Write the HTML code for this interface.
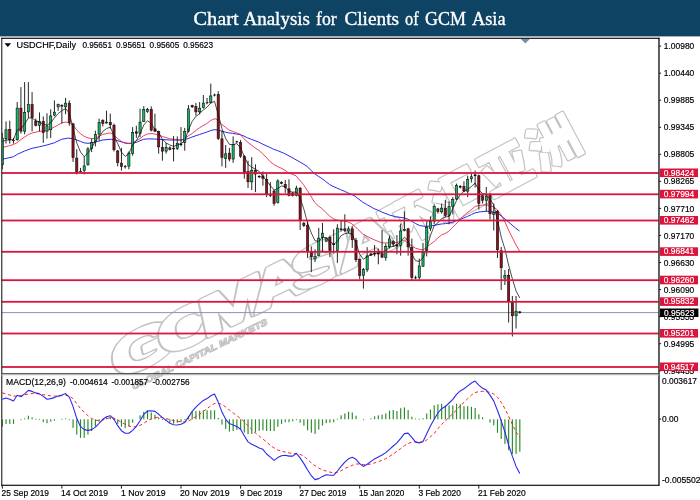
<!DOCTYPE html>
<html lang="en"><head><meta charset="utf-8"><title>Chart Analysis for Clients of GCM Asia</title>
<style>html,body{margin:0;padding:0;background:#fff;overflow:hidden}svg{display:block}.s{font-family:"Liberation Sans","DejaVu Sans",sans-serif;font-size:8.6px;fill:#000;stroke:#000;stroke-width:0.18px}.w{font-family:"Liberation Sans","DejaVu Sans",sans-serif;font-size:8.6px;fill:#fff;stroke:#fff;stroke-width:0.18px}.t{font-family:"Liberation Serif","DejaVu Serif",serif;font-size:19.6px;fill:#fff;stroke:#fff;stroke-width:0.35px}</style></head><body>
<svg width="700" height="500" viewBox="0 0 700 500">
<rect x="0" y="0" width="700" height="500" fill="#fff"/>
<rect x="0" y="0" width="700" height="36.4" fill="#0e4364"/>
<text class="t" y="24.6"><tspan x="193.4" textLength="45.2" lengthAdjust="spacingAndGlyphs">Chart</tspan> <tspan x="243.4" textLength="66.6" lengthAdjust="spacingAndGlyphs">Analysis</tspan> <tspan x="316" textLength="20.6" lengthAdjust="spacingAndGlyphs">for</tspan> <tspan x="344.4" textLength="54.6" lengthAdjust="spacingAndGlyphs">Clients</tspan> <tspan x="405" textLength="13.6" lengthAdjust="spacingAndGlyphs">of</tspan> <tspan x="425" textLength="41.0" lengthAdjust="spacingAndGlyphs">GCM</tspan> <tspan x="472" textLength="33.6" lengthAdjust="spacingAndGlyphs">Asia</tspan></text>
<defs><clipPath id="cm"><rect x="2" y="38.5" width="656" height="335"/></clipPath><clipPath id="cd"><rect x="2" y="375.5" width="656" height="109"/></clipPath></defs>
<defs><text id="wm0" x="0.0" y="0">G</text><text id="wm1" x="28.3" y="0">C</text><text id="wm2" x="53.9" y="0">M</text><text id="wm3" x="84.8" y="0">A</text><text id="wm4" x="110.4" y="0">S</text><text id="wm5" x="133.4" y="0">I</text><text id="wm6" x="137.9" y="0">A</text><text id="wm7" x="0.0" y="0">环</text><text id="wm8" x="55.0" y="0">汇</text><text id="wm9" x="110.0" y="0">亚</text><text id="wm10" x="165.0" y="0">洲</text></defs>
<g transform="matrix(1.6341 -0.7854 0.2418 1.0731 116.20 380.30)" font-family="Liberation Sans, DejaVu Sans, sans-serif" font-weight="bold" font-size="47.6" stroke-linejoin="round" vector-effect="non-scaling-stroke">
<use href="#wm0" fill="#c2c2c2" stroke="#c2c2c2" stroke-width="5.00"/><use href="#wm0" fill="#fff" stroke="#fff" stroke-width="2.60"/>
<use href="#wm1" fill="#c2c2c2" stroke="#c2c2c2" stroke-width="5.00"/><use href="#wm1" fill="#fff" stroke="#fff" stroke-width="2.60"/>
<use href="#wm2" fill="#c2c2c2" stroke="#c2c2c2" stroke-width="5.00"/><use href="#wm2" fill="#fff" stroke="#fff" stroke-width="2.60"/>
<use href="#wm3" fill="#c2c2c2" stroke="#c2c2c2" stroke-width="5.00"/><use href="#wm3" fill="#fff" stroke="#fff" stroke-width="2.60"/>
<use href="#wm4" fill="#c2c2c2" stroke="#c2c2c2" stroke-width="5.00"/><use href="#wm4" fill="#fff" stroke="#fff" stroke-width="2.60"/>
<use href="#wm5" fill="#c2c2c2" stroke="#c2c2c2" stroke-width="5.00"/><use href="#wm5" fill="#fff" stroke="#fff" stroke-width="2.60"/>
<use href="#wm6" fill="#c2c2c2" stroke="#c2c2c2" stroke-width="5.00"/><use href="#wm6" fill="#fff" stroke="#fff" stroke-width="2.60"/>
</g>
<g transform="matrix(0.8829 -0.4695 0.4695 0.8829 394.80 248.50)" font-family="Liberation Sans, Noto Sans CJK SC, sans-serif" font-weight="900" font-size="50" stroke-linejoin="round" vector-effect="non-scaling-stroke">
<use href="#wm7" fill="#c2c2c2" stroke="#c2c2c2" stroke-width="3.60"/><use href="#wm7" fill="#fff" stroke="#fff" stroke-width="1.20"/>
<use href="#wm8" fill="#c2c2c2" stroke="#c2c2c2" stroke-width="3.60"/><use href="#wm8" fill="#fff" stroke="#fff" stroke-width="1.20"/>
<use href="#wm9" fill="#c2c2c2" stroke="#c2c2c2" stroke-width="3.60"/><use href="#wm9" fill="#fff" stroke="#fff" stroke-width="1.20"/>
<use href="#wm10" fill="#c2c2c2" stroke="#c2c2c2" stroke-width="3.60"/><use href="#wm10" fill="#fff" stroke="#fff" stroke-width="1.20"/>
</g>
<g transform="matrix(0.8988 -0.4384 0.2198 0.9755 133.00 390.00)" font-family="Liberation Sans, DejaVu Sans, sans-serif" font-weight="bold" font-size="9">
<text x="0" y="0" textLength="150" lengthAdjust="spacingAndGlyphs" fill="#fff" stroke="#c2c2c2" stroke-width="1.0">GLOBAL CAPITAL MARKETS</text>
</g>
<rect x="2" y="312.1" width="656.5" height="1" fill="#8a97ab"/>
<g clip-path="url(#cm)">
<polyline points="2.2,159.3 13.6,156.7 17.3,154.3 24.6,151.0 32.0,148.3 39.4,146.8 46.9,145.0 54.3,142.8 61.7,139.3 67.9,138.1 73.0,138.6 76.7,140.0 80.4,141.4 84.3,142.9 88.0,143.3 91.7,142.9 95.4,142.0 102.8,140.0 110.3,139.3 114.0,139.6 117.7,140.7 121.4,141.9 125.1,142.9 128.8,143.3 132.5,143.3 136.2,142.4 140.0,140.7 143.7,139.3 147.4,138.9 154.8,139.0 162.2,139.5 169.7,140.0 180.8,140.0 184.5,139.6 188.2,138.6 191.9,137.1 199.3,134.6 206.7,132.1 210.4,130.7 214.1,129.7 217.9,130.0 221.6,131.1 225.3,132.1 229.0,132.9 232.7,133.4 236.4,134.0 240.1,134.6 243.9,136.0 247.6,137.9 251.3,139.3 255.0,140.7 258.7,142.1 262.4,144.0 266.1,145.7 269.9,147.4 273.6,149.3 277.3,150.5 281.0,152.0 284.7,153.6 292.0,157.5 299.0,161.5 305.0,165.0 307.0,166.4 310.7,170.0 314.4,173.6 318.1,176.1 321.9,178.6 325.6,181.4 329.3,184.3 333.0,186.4 336.7,187.9 340.4,189.6 344.1,191.1 347.9,192.9 351.6,194.3 355.3,196.4 359.0,199.3 362.7,202.1 366.4,204.3 370.1,206.4 373.9,208.6 377.6,210.0 382.0,212.1 389.3,215.0 396.4,216.9 404.3,217.9 408.3,219.3 411.9,221.4 415.7,223.6 419.4,225.4 423.1,226.1 426.7,226.4 430.4,226.0 434.3,225.4 437.9,224.6 441.4,224.0 445.4,223.6 449.0,223.1 452.9,222.1 456.4,220.7 460.3,219.3 463.9,217.9 467.6,216.4 471.4,214.6 475.0,212.9 479.0,212.0 486.3,211.2 490.0,211.5 493.7,212.0 497.5,213.0 501.2,216.0 505.0,219.0 508.5,222.0 512.0,225.0 515.5,228.0 519.5,231.0" fill="none" stroke="#2a2af0" stroke-width="1.0" stroke-linejoin="round" />
<polyline points="2.2,147.7 9.7,145.5 13.4,144.6 17.3,142.5 21.0,139.5 24.6,137.0 28.3,134.6 32.0,133.0 39.4,131.4 46.9,130.7 54.3,127.1 61.7,122.9 65.4,122.1 69.3,122.9 73.0,125.0 76.7,130.0 80.4,133.6 84.3,136.4 88.0,137.9 91.7,138.6 95.4,138.3 102.8,134.3 110.3,132.9 114.0,135.0 117.7,138.6 121.4,141.4 125.1,143.3 128.8,143.6 132.5,142.9 136.2,140.7 140.0,138.6 143.7,135.7 147.4,134.0 151.1,133.6 154.8,134.0 158.5,135.0 162.2,136.4 165.9,137.6 169.7,138.6 173.4,139.3 177.1,139.7 180.8,140.0 184.5,139.0 188.2,136.0 191.9,133.6 199.3,127.9 206.7,123.6 210.4,120.7 214.1,118.9 216.0,118.9 217.9,120.7 221.6,124.3 225.3,127.1 229.0,130.0 232.7,131.4 236.4,132.9 240.1,134.3 243.9,138.6 247.6,142.1 251.3,145.0 255.0,147.9 258.7,150.2 262.4,153.6 266.1,157.1 269.9,161.4 273.6,164.3 277.3,166.4 281.0,168.1 284.7,170.0 288.4,172.9 292.1,174.3 295.9,175.7 299.6,180.0 303.3,184.3 307.0,190.0 310.7,195.7 314.4,202.1 318.1,205.7 321.9,208.6 325.6,212.1 329.3,215.7 333.0,218.6 336.7,220.0 340.4,220.7 344.1,221.0 347.9,221.9 351.6,223.6 355.3,226.8 359.0,230.4 362.7,233.9 366.4,236.0 370.1,237.9 373.9,239.7 377.6,241.1 381.9,242.9 389.3,242.9 396.7,242.6 400.4,241.4 404.3,240.0 408.3,243.6 411.9,245.7 415.7,248.3 419.4,249.3 423.1,250.0 426.7,247.1 430.4,244.3 434.3,241.4 437.9,237.9 441.4,235.0 445.0,233.6 448.6,231.4 452.1,227.8 455.7,224.3 459.3,220.5 463.0,216.4 467.0,212.9 471.0,210.0 475.0,206.5 479.0,205.5 482.5,205.0 486.3,204.8 490.0,205.5 493.7,207.0 497.5,210.0 501.2,215.0 505.0,222.0 508.5,230.0 512.0,237.0 515.5,244.0 519.5,251.0" fill="none" stroke="#e8213f" stroke-width="0.85" stroke-linejoin="round" />
<line x1="2.30" y1="132.9" x2="2.30" y2="169.3" stroke="#1a1a1a" stroke-width="0.95"/>
<rect x="1.20" y="138.15" width="2.2" height="26.60" fill="#13b866" stroke="#101010" stroke-width="0.6"/>
<line x1="6.02" y1="121.4" x2="6.02" y2="143.6" stroke="#1a1a1a" stroke-width="0.95"/>
<rect x="4.92" y="129.75" width="2.2" height="9.00" fill="#13b866" stroke="#101010" stroke-width="0.6"/>
<line x1="9.75" y1="120.7" x2="9.75" y2="143.6" stroke="#1a1a1a" stroke-width="0.95"/>
<rect x="8.65" y="129.55" width="2.2" height="10.20" fill="#8e1018" stroke="#101010" stroke-width="0.6"/>
<line x1="13.47" y1="137.9" x2="13.47" y2="143.6" stroke="#1a1a1a" stroke-width="0.95"/>
<rect x="12.12" y="140.0" width="2.7" height="0.9" fill="#111"/>
<line x1="17.19" y1="102.1" x2="17.19" y2="140.7" stroke="#1a1a1a" stroke-width="0.95"/>
<rect x="16.09" y="108.15" width="2.2" height="31.60" fill="#13b866" stroke="#101010" stroke-width="0.6"/>
<line x1="20.91" y1="87.1" x2="20.91" y2="133.6" stroke="#1a1a1a" stroke-width="0.95"/>
<rect x="19.81" y="108.15" width="2.2" height="23.00" fill="#8e1018" stroke="#101010" stroke-width="0.6"/>
<line x1="24.64" y1="82.1" x2="24.64" y2="134.3" stroke="#1a1a1a" stroke-width="0.95"/>
<rect x="23.54" y="112.35" width="2.2" height="18.80" fill="#13b866" stroke="#101010" stroke-width="0.6"/>
<line x1="28.36" y1="82.1" x2="28.36" y2="117.9" stroke="#1a1a1a" stroke-width="0.95"/>
<rect x="27.26" y="104.55" width="2.2" height="7.30" fill="#13b866" stroke="#101010" stroke-width="0.6"/>
<line x1="32.08" y1="92.1" x2="32.08" y2="131.4" stroke="#1a1a1a" stroke-width="0.95"/>
<rect x="30.98" y="104.55" width="2.2" height="13.10" fill="#8e1018" stroke="#101010" stroke-width="0.6"/>
<line x1="35.81" y1="118.6" x2="35.81" y2="126.4" stroke="#1a1a1a" stroke-width="0.95"/>
<rect x="34.71" y="120.95" width="2.2" height="4.50" fill="#8e1018" stroke="#101010" stroke-width="0.6"/>
<line x1="39.53" y1="112.4" x2="39.53" y2="131.4" stroke="#1a1a1a" stroke-width="0.95"/>
<rect x="38.43" y="121.65" width="2.2" height="3.80" fill="#13b866" stroke="#101010" stroke-width="0.6"/>
<line x1="43.25" y1="116.4" x2="43.25" y2="142.9" stroke="#1a1a1a" stroke-width="0.95"/>
<rect x="42.15" y="121.65" width="2.2" height="11.00" fill="#8e1018" stroke="#101010" stroke-width="0.6"/>
<line x1="46.98" y1="113.3" x2="46.98" y2="138.6" stroke="#1a1a1a" stroke-width="0.95"/>
<rect x="45.88" y="125.95" width="2.2" height="5.20" fill="#13b866" stroke="#101010" stroke-width="0.6"/>
<line x1="50.70" y1="109.3" x2="50.70" y2="137.9" stroke="#1a1a1a" stroke-width="0.95"/>
<rect x="49.60" y="115.95" width="2.2" height="13.80" fill="#13b866" stroke="#101010" stroke-width="0.6"/>
<line x1="54.42" y1="100.4" x2="54.42" y2="116.4" stroke="#1a1a1a" stroke-width="0.95"/>
<rect x="53.32" y="112.15" width="2.2" height="2.90" fill="#13b866" stroke="#101010" stroke-width="0.6"/>
<line x1="58.14" y1="103.6" x2="58.14" y2="110.7" stroke="#1a1a1a" stroke-width="0.95"/>
<rect x="57.04" y="104.55" width="2.2" height="2.30" fill="#13b866" stroke="#101010" stroke-width="0.6"/>
<line x1="61.87" y1="104.3" x2="61.87" y2="123.6" stroke="#1a1a1a" stroke-width="0.95"/>
<rect x="60.77" y="105.25" width="2.2" height="0.90" fill="#8e1018" stroke="#101010" stroke-width="0.6"/>
<line x1="65.59" y1="97.9" x2="65.59" y2="114.3" stroke="#1a1a1a" stroke-width="0.95"/>
<rect x="64.49" y="103.15" width="2.2" height="3.70" fill="#13b866" stroke="#101010" stroke-width="0.6"/>
<line x1="69.31" y1="100.4" x2="69.31" y2="125.7" stroke="#1a1a1a" stroke-width="0.95"/>
<rect x="68.21" y="103.15" width="2.2" height="19.50" fill="#8e1018" stroke="#101010" stroke-width="0.6"/>
<line x1="73.04" y1="122.9" x2="73.04" y2="161.9" stroke="#1a1a1a" stroke-width="0.95"/>
<rect x="71.94" y="123.85" width="2.2" height="33.80" fill="#8e1018" stroke="#101010" stroke-width="0.6"/>
<line x1="76.76" y1="149.3" x2="76.76" y2="174.3" stroke="#1a1a1a" stroke-width="0.95"/>
<rect x="75.66" y="158.15" width="2.2" height="14.50" fill="#8e1018" stroke="#101010" stroke-width="0.6"/>
<line x1="80.48" y1="167.9" x2="80.48" y2="172.0" stroke="#1a1a1a" stroke-width="0.95"/>
<rect x="79.13" y="171.0" width="2.7" height="0.9" fill="#111"/>
<line x1="84.21" y1="156.4" x2="84.21" y2="174.3" stroke="#1a1a1a" stroke-width="0.95"/>
<rect x="83.11" y="165.95" width="2.2" height="4.50" fill="#13b866" stroke="#101010" stroke-width="0.6"/>
<line x1="87.93" y1="147.1" x2="87.93" y2="165.7" stroke="#1a1a1a" stroke-width="0.95"/>
<rect x="86.83" y="148.85" width="2.2" height="15.90" fill="#13b866" stroke="#101010" stroke-width="0.6"/>
<line x1="91.65" y1="138.6" x2="91.65" y2="152.1" stroke="#1a1a1a" stroke-width="0.95"/>
<rect x="90.55" y="142.35" width="2.2" height="6.00" fill="#13b866" stroke="#101010" stroke-width="0.6"/>
<line x1="95.38" y1="130.7" x2="95.38" y2="146.4" stroke="#1a1a1a" stroke-width="0.95"/>
<rect x="94.28" y="134.55" width="2.2" height="7.30" fill="#13b866" stroke="#101010" stroke-width="0.6"/>
<line x1="99.10" y1="118.6" x2="99.10" y2="140.7" stroke="#1a1a1a" stroke-width="0.95"/>
<rect x="98.00" y="122.35" width="2.2" height="11.70" fill="#13b866" stroke="#101010" stroke-width="0.6"/>
<line x1="102.82" y1="119.3" x2="102.82" y2="126.4" stroke="#1a1a1a" stroke-width="0.95"/>
<rect x="101.72" y="120.25" width="2.2" height="3.10" fill="#8e1018" stroke="#101010" stroke-width="0.6"/>
<line x1="106.54" y1="110.7" x2="106.54" y2="123.6" stroke="#1a1a1a" stroke-width="0.95"/>
<rect x="105.44" y="122.15" width="2.2" height="0.90" fill="#13b866" stroke="#101010" stroke-width="0.6"/>
<line x1="110.27" y1="113.6" x2="110.27" y2="128.6" stroke="#1a1a1a" stroke-width="0.95"/>
<rect x="109.17" y="122.35" width="2.2" height="2.40" fill="#8e1018" stroke="#101010" stroke-width="0.6"/>
<line x1="113.99" y1="123.6" x2="113.99" y2="151.4" stroke="#1a1a1a" stroke-width="0.95"/>
<rect x="112.89" y="125.25" width="2.2" height="24.50" fill="#8e1018" stroke="#101010" stroke-width="0.6"/>
<line x1="117.71" y1="150.0" x2="117.71" y2="166.4" stroke="#1a1a1a" stroke-width="0.95"/>
<rect x="116.61" y="150.95" width="2.2" height="11.70" fill="#8e1018" stroke="#101010" stroke-width="0.6"/>
<line x1="121.44" y1="147.9" x2="121.44" y2="170.7" stroke="#1a1a1a" stroke-width="0.95"/>
<rect x="120.34" y="163.15" width="2.2" height="3.30" fill="#8e1018" stroke="#101010" stroke-width="0.6"/>
<line x1="125.16" y1="165.0" x2="125.16" y2="168.6" stroke="#1a1a1a" stroke-width="0.95"/>
<rect x="123.81" y="166.2" width="2.7" height="0.9" fill="#111"/>
<line x1="128.88" y1="151.4" x2="128.88" y2="169.3" stroke="#1a1a1a" stroke-width="0.95"/>
<rect x="127.78" y="153.15" width="2.2" height="13.00" fill="#13b866" stroke="#101010" stroke-width="0.6"/>
<line x1="132.61" y1="127.1" x2="132.61" y2="155.7" stroke="#1a1a1a" stroke-width="0.95"/>
<rect x="131.51" y="132.65" width="2.2" height="20.70" fill="#13b866" stroke="#101010" stroke-width="0.6"/>
<line x1="136.33" y1="125.7" x2="136.33" y2="137.9" stroke="#1a1a1a" stroke-width="0.95"/>
<rect x="134.98" y="131.4" width="2.7" height="2.2" fill="#111"/>
<line x1="140.05" y1="108.6" x2="140.05" y2="137.1" stroke="#1a1a1a" stroke-width="0.95"/>
<rect x="138.95" y="122.15" width="2.2" height="11.20" fill="#13b866" stroke="#101010" stroke-width="0.6"/>
<line x1="143.77" y1="106.1" x2="143.77" y2="122.0" stroke="#1a1a1a" stroke-width="0.95"/>
<rect x="142.67" y="109.55" width="2.2" height="12.10" fill="#13b866" stroke="#101010" stroke-width="0.6"/>
<line x1="147.50" y1="107.9" x2="147.50" y2="112.9" stroke="#1a1a1a" stroke-width="0.95"/>
<rect x="146.40" y="109.55" width="2.2" height="2.10" fill="#13b866" stroke="#101010" stroke-width="0.6"/>
<line x1="151.22" y1="106.4" x2="151.22" y2="131.4" stroke="#1a1a1a" stroke-width="0.95"/>
<rect x="150.12" y="109.55" width="2.2" height="20.60" fill="#8e1018" stroke="#101010" stroke-width="0.6"/>
<line x1="154.94" y1="113.6" x2="154.94" y2="132.1" stroke="#1a1a1a" stroke-width="0.95"/>
<rect x="153.84" y="128.85" width="2.2" height="2.30" fill="#8e1018" stroke="#101010" stroke-width="0.6"/>
<line x1="158.67" y1="130.7" x2="158.67" y2="153.6" stroke="#1a1a1a" stroke-width="0.95"/>
<rect x="157.57" y="131.65" width="2.2" height="15.20" fill="#8e1018" stroke="#101010" stroke-width="0.6"/>
<line x1="162.39" y1="140.0" x2="162.39" y2="160.7" stroke="#1a1a1a" stroke-width="0.95"/>
<rect x="161.29" y="147.35" width="2.2" height="3.80" fill="#8e1018" stroke="#101010" stroke-width="0.6"/>
<line x1="166.11" y1="142.9" x2="166.11" y2="153.6" stroke="#1a1a1a" stroke-width="0.95"/>
<rect x="165.01" y="147.35" width="2.2" height="3.80" fill="#13b866" stroke="#101010" stroke-width="0.6"/>
<line x1="169.84" y1="146.4" x2="169.84" y2="150.4" stroke="#1a1a1a" stroke-width="0.95"/>
<rect x="168.74" y="147.85" width="2.2" height="1.50" fill="#8e1018" stroke="#101010" stroke-width="0.6"/>
<line x1="173.56" y1="136.1" x2="173.56" y2="161.4" stroke="#1a1a1a" stroke-width="0.95"/>
<rect x="172.21" y="147.9" width="2.7" height="1.4" fill="#111"/>
<line x1="177.28" y1="136.4" x2="177.28" y2="150.0" stroke="#1a1a1a" stroke-width="0.95"/>
<rect x="176.18" y="143.55" width="2.2" height="4.80" fill="#13b866" stroke="#101010" stroke-width="0.6"/>
<line x1="181.00" y1="127.1" x2="181.00" y2="146.4" stroke="#1a1a1a" stroke-width="0.95"/>
<rect x="179.65" y="143.6" width="2.7" height="1.4" fill="#111"/>
<line x1="184.73" y1="127.9" x2="184.73" y2="150.7" stroke="#1a1a1a" stroke-width="0.95"/>
<rect x="183.63" y="131.65" width="2.2" height="11.00" fill="#13b866" stroke="#101010" stroke-width="0.6"/>
<line x1="188.45" y1="105.0" x2="188.45" y2="132.5" stroke="#1a1a1a" stroke-width="0.95"/>
<rect x="187.35" y="108.85" width="2.2" height="22.30" fill="#13b866" stroke="#101010" stroke-width="0.6"/>
<line x1="192.17" y1="104.7" x2="192.17" y2="108.0" stroke="#1a1a1a" stroke-width="0.95"/>
<rect x="191.07" y="105.65" width="2.2" height="1.20" fill="#8e1018" stroke="#101010" stroke-width="0.6"/>
<line x1="195.90" y1="102.9" x2="195.90" y2="115.7" stroke="#1a1a1a" stroke-width="0.95"/>
<rect x="194.80" y="106.65" width="2.2" height="5.20" fill="#8e1018" stroke="#101010" stroke-width="0.6"/>
<line x1="199.62" y1="102.1" x2="199.62" y2="114.3" stroke="#1a1a1a" stroke-width="0.95"/>
<rect x="198.52" y="108.15" width="2.2" height="3.70" fill="#13b866" stroke="#101010" stroke-width="0.6"/>
<line x1="203.34" y1="95.0" x2="203.34" y2="108.6" stroke="#1a1a1a" stroke-width="0.95"/>
<rect x="202.24" y="103.15" width="2.2" height="4.50" fill="#13b866" stroke="#101010" stroke-width="0.6"/>
<line x1="207.06" y1="97.9" x2="207.06" y2="104.3" stroke="#1a1a1a" stroke-width="0.95"/>
<rect x="205.72" y="102.3" width="2.7" height="0.9" fill="#111"/>
<line x1="210.79" y1="83.6" x2="210.79" y2="103.6" stroke="#1a1a1a" stroke-width="0.95"/>
<rect x="209.69" y="95.95" width="2.2" height="6.70" fill="#13b866" stroke="#101010" stroke-width="0.6"/>
<line x1="214.51" y1="93.6" x2="214.51" y2="96.4" stroke="#1a1a1a" stroke-width="0.95"/>
<rect x="213.16" y="94.6" width="2.7" height="0.9" fill="#111"/>
<line x1="218.23" y1="91.1" x2="218.23" y2="140.0" stroke="#1a1a1a" stroke-width="0.95"/>
<rect x="217.13" y="94.55" width="2.2" height="43.80" fill="#8e1018" stroke="#101010" stroke-width="0.6"/>
<line x1="221.96" y1="130.7" x2="221.96" y2="166.4" stroke="#1a1a1a" stroke-width="0.95"/>
<rect x="220.86" y="138.85" width="2.2" height="18.80" fill="#8e1018" stroke="#101010" stroke-width="0.6"/>
<line x1="225.68" y1="145.0" x2="225.68" y2="167.9" stroke="#1a1a1a" stroke-width="0.95"/>
<rect x="224.58" y="153.85" width="2.2" height="4.50" fill="#13b866" stroke="#101010" stroke-width="0.6"/>
<line x1="229.40" y1="147.9" x2="229.40" y2="161.4" stroke="#1a1a1a" stroke-width="0.95"/>
<rect x="228.30" y="153.15" width="2.2" height="5.90" fill="#8e1018" stroke="#101010" stroke-width="0.6"/>
<line x1="233.13" y1="136.4" x2="233.13" y2="162.9" stroke="#1a1a1a" stroke-width="0.95"/>
<rect x="232.03" y="144.55" width="2.2" height="14.50" fill="#13b866" stroke="#101010" stroke-width="0.6"/>
<line x1="236.85" y1="140.7" x2="236.85" y2="142.9" stroke="#1a1a1a" stroke-width="0.95"/>
<rect x="235.50" y="141.4" width="2.7" height="0.9" fill="#111"/>
<line x1="240.57" y1="140.0" x2="240.57" y2="157.9" stroke="#1a1a1a" stroke-width="0.95"/>
<rect x="239.47" y="142.35" width="2.2" height="13.80" fill="#8e1018" stroke="#101010" stroke-width="0.6"/>
<line x1="244.30" y1="155.0" x2="244.30" y2="178.6" stroke="#1a1a1a" stroke-width="0.95"/>
<rect x="243.20" y="156.65" width="2.2" height="16.70" fill="#8e1018" stroke="#101010" stroke-width="0.6"/>
<line x1="248.02" y1="160.7" x2="248.02" y2="187.9" stroke="#1a1a1a" stroke-width="0.95"/>
<rect x="246.92" y="171.65" width="2.2" height="10.20" fill="#8e1018" stroke="#101010" stroke-width="0.6"/>
<line x1="251.74" y1="157.1" x2="251.74" y2="190.0" stroke="#1a1a1a" stroke-width="0.95"/>
<rect x="250.64" y="170.25" width="2.2" height="11.60" fill="#13b866" stroke="#101010" stroke-width="0.6"/>
<line x1="255.46" y1="164.3" x2="255.46" y2="192.1" stroke="#1a1a1a" stroke-width="0.95"/>
<rect x="254.36" y="170.25" width="2.2" height="3.80" fill="#8e1018" stroke="#101010" stroke-width="0.6"/>
<line x1="259.19" y1="175.4" x2="259.19" y2="177.9" stroke="#1a1a1a" stroke-width="0.95"/>
<rect x="258.09" y="176.25" width="2.2" height="0.70" fill="#8e1018" stroke="#101010" stroke-width="0.6"/>
<line x1="262.91" y1="171.4" x2="262.91" y2="185.7" stroke="#1a1a1a" stroke-width="0.95"/>
<rect x="261.81" y="175.95" width="2.2" height="2.40" fill="#8e1018" stroke="#101010" stroke-width="0.6"/>
<line x1="266.63" y1="173.6" x2="266.63" y2="197.1" stroke="#1a1a1a" stroke-width="0.95"/>
<rect x="265.53" y="179.55" width="2.2" height="14.50" fill="#8e1018" stroke="#101010" stroke-width="0.6"/>
<line x1="270.36" y1="182.1" x2="270.36" y2="197.1" stroke="#1a1a1a" stroke-width="0.95"/>
<rect x="269.01" y="194.3" width="2.7" height="1.4" fill="#111"/>
<line x1="274.08" y1="190.0" x2="274.08" y2="205.7" stroke="#1a1a1a" stroke-width="0.95"/>
<rect x="272.98" y="190.95" width="2.2" height="12.40" fill="#8e1018" stroke="#101010" stroke-width="0.6"/>
<line x1="277.80" y1="179.3" x2="277.80" y2="203.6" stroke="#1a1a1a" stroke-width="0.95"/>
<rect x="276.70" y="180.95" width="2.2" height="21.70" fill="#13b866" stroke="#101010" stroke-width="0.6"/>
<line x1="281.52" y1="181.4" x2="281.52" y2="184.3" stroke="#1a1a1a" stroke-width="0.95"/>
<rect x="280.42" y="182.25" width="2.2" height="1.10" fill="#8e1018" stroke="#101010" stroke-width="0.6"/>
<line x1="285.25" y1="180.0" x2="285.25" y2="192.9" stroke="#1a1a1a" stroke-width="0.95"/>
<rect x="284.15" y="184.55" width="2.2" height="3.10" fill="#8e1018" stroke="#101010" stroke-width="0.6"/>
<line x1="288.97" y1="179.3" x2="288.97" y2="196.4" stroke="#1a1a1a" stroke-width="0.95"/>
<rect x="287.87" y="188.85" width="2.2" height="6.60" fill="#8e1018" stroke="#101010" stroke-width="0.6"/>
<line x1="292.69" y1="192.0" x2="292.69" y2="196.5" stroke="#1a1a1a" stroke-width="0.95"/>
<rect x="291.59" y="193.15" width="2.2" height="2.30" fill="#8e1018" stroke="#101010" stroke-width="0.6"/>
<line x1="296.42" y1="185.7" x2="296.42" y2="196.4" stroke="#1a1a1a" stroke-width="0.95"/>
<rect x="295.32" y="188.15" width="2.2" height="7.30" fill="#13b866" stroke="#101010" stroke-width="0.6"/>
<line x1="300.14" y1="187.1" x2="300.14" y2="230.0" stroke="#1a1a1a" stroke-width="0.95"/>
<rect x="299.04" y="188.15" width="2.2" height="32.30" fill="#8e1018" stroke="#101010" stroke-width="0.6"/>
<line x1="303.86" y1="222.0" x2="303.86" y2="227.0" stroke="#1a1a1a" stroke-width="0.95"/>
<rect x="302.76" y="223.25" width="2.2" height="2.20" fill="#8e1018" stroke="#101010" stroke-width="0.6"/>
<line x1="307.59" y1="221.4" x2="307.59" y2="257.9" stroke="#1a1a1a" stroke-width="0.95"/>
<rect x="306.49" y="225.25" width="2.2" height="25.90" fill="#8e1018" stroke="#101010" stroke-width="0.6"/>
<line x1="311.31" y1="246.4" x2="311.31" y2="272.1" stroke="#1a1a1a" stroke-width="0.95"/>
<rect x="310.21" y="251.65" width="2.2" height="5.20" fill="#8e1018" stroke="#101010" stroke-width="0.6"/>
<line x1="315.03" y1="249.3" x2="315.03" y2="262.1" stroke="#1a1a1a" stroke-width="0.95"/>
<rect x="313.93" y="256.65" width="2.2" height="2.40" fill="#13b866" stroke="#101010" stroke-width="0.6"/>
<line x1="318.75" y1="227.9" x2="318.75" y2="256.4" stroke="#1a1a1a" stroke-width="0.95"/>
<rect x="317.65" y="238.15" width="2.2" height="17.30" fill="#13b866" stroke="#101010" stroke-width="0.6"/>
<line x1="322.48" y1="222.9" x2="322.48" y2="251.4" stroke="#1a1a1a" stroke-width="0.95"/>
<rect x="321.38" y="233.15" width="2.2" height="4.50" fill="#13b866" stroke="#101010" stroke-width="0.6"/>
<line x1="326.20" y1="237.1" x2="326.20" y2="242.1" stroke="#1a1a1a" stroke-width="0.95"/>
<rect x="325.10" y="238.15" width="2.2" height="3.00" fill="#13b866" stroke="#101010" stroke-width="0.6"/>
<line x1="329.92" y1="235.7" x2="329.92" y2="257.1" stroke="#1a1a1a" stroke-width="0.95"/>
<rect x="328.82" y="237.35" width="2.2" height="13.10" fill="#8e1018" stroke="#101010" stroke-width="0.6"/>
<line x1="333.65" y1="229.3" x2="333.65" y2="253.6" stroke="#1a1a1a" stroke-width="0.95"/>
<rect x="332.30" y="243.6" width="2.7" height="1.4" fill="#111"/>
<line x1="337.37" y1="224.3" x2="337.37" y2="262.9" stroke="#1a1a1a" stroke-width="0.95"/>
<rect x="336.27" y="228.15" width="2.2" height="22.30" fill="#13b866" stroke="#101010" stroke-width="0.6"/>
<line x1="341.09" y1="220.7" x2="341.09" y2="231.4" stroke="#1a1a1a" stroke-width="0.95"/>
<rect x="339.74" y="228.6" width="2.7" height="1.4" fill="#111"/>
<line x1="344.82" y1="214.3" x2="344.82" y2="232.1" stroke="#1a1a1a" stroke-width="0.95"/>
<rect x="343.72" y="228.85" width="2.2" height="1.60" fill="#8e1018" stroke="#101010" stroke-width="0.6"/>
<line x1="348.54" y1="226.4" x2="348.54" y2="233.6" stroke="#1a1a1a" stroke-width="0.95"/>
<rect x="347.44" y="228.85" width="2.2" height="2.30" fill="#13b866" stroke="#101010" stroke-width="0.6"/>
<line x1="352.26" y1="226.4" x2="352.26" y2="247.9" stroke="#1a1a1a" stroke-width="0.95"/>
<rect x="351.16" y="228.85" width="2.2" height="10.90" fill="#8e1018" stroke="#101010" stroke-width="0.6"/>
<line x1="355.99" y1="237.9" x2="355.99" y2="262.1" stroke="#1a1a1a" stroke-width="0.95"/>
<rect x="354.88" y="240.25" width="2.2" height="19.50" fill="#8e1018" stroke="#101010" stroke-width="0.6"/>
<line x1="359.71" y1="258.6" x2="359.71" y2="279.3" stroke="#1a1a1a" stroke-width="0.95"/>
<rect x="358.61" y="259.55" width="2.2" height="15.90" fill="#8e1018" stroke="#101010" stroke-width="0.6"/>
<line x1="363.43" y1="267.9" x2="363.43" y2="288.6" stroke="#1a1a1a" stroke-width="0.95"/>
<rect x="362.33" y="269.55" width="2.2" height="5.90" fill="#13b866" stroke="#101010" stroke-width="0.6"/>
<line x1="367.15" y1="247.1" x2="367.15" y2="272.1" stroke="#1a1a1a" stroke-width="0.95"/>
<rect x="366.05" y="255.95" width="2.2" height="13.80" fill="#13b866" stroke="#101010" stroke-width="0.6"/>
<line x1="370.88" y1="253.0" x2="370.88" y2="256.0" stroke="#1a1a1a" stroke-width="0.95"/>
<rect x="369.53" y="253.6" width="2.7" height="1.8" fill="#111"/>
<line x1="374.60" y1="245.0" x2="374.60" y2="256.4" stroke="#1a1a1a" stroke-width="0.95"/>
<rect x="373.25" y="252.9" width="2.7" height="1.4" fill="#111"/>
<line x1="378.32" y1="248.6" x2="378.32" y2="264.3" stroke="#1a1a1a" stroke-width="0.95"/>
<rect x="376.97" y="252.1" width="2.7" height="2.2" fill="#111"/>
<line x1="382.05" y1="230.0" x2="382.05" y2="257.9" stroke="#1a1a1a" stroke-width="0.95"/>
<rect x="380.95" y="253.85" width="2.2" height="3.30" fill="#8e1018" stroke="#101010" stroke-width="0.6"/>
<line x1="385.77" y1="243.6" x2="385.77" y2="260.7" stroke="#1a1a1a" stroke-width="0.95"/>
<rect x="384.67" y="246.65" width="2.2" height="11.00" fill="#13b866" stroke="#101010" stroke-width="0.6"/>
<line x1="389.49" y1="235.7" x2="389.49" y2="248.6" stroke="#1a1a1a" stroke-width="0.95"/>
<rect x="388.39" y="238.85" width="2.2" height="8.00" fill="#13b866" stroke="#101010" stroke-width="0.6"/>
<line x1="393.21" y1="240.0" x2="393.21" y2="247.0" stroke="#1a1a1a" stroke-width="0.95"/>
<rect x="392.11" y="241.65" width="2.2" height="2.40" fill="#8e1018" stroke="#101010" stroke-width="0.6"/>
<line x1="396.94" y1="235.0" x2="396.94" y2="254.3" stroke="#1a1a1a" stroke-width="0.95"/>
<rect x="395.59" y="244.3" width="2.7" height="2.1" fill="#111"/>
<line x1="400.66" y1="223.6" x2="400.66" y2="255.7" stroke="#1a1a1a" stroke-width="0.95"/>
<rect x="399.56" y="230.95" width="2.2" height="14.50" fill="#13b866" stroke="#101010" stroke-width="0.6"/>
<line x1="404.38" y1="211.4" x2="404.38" y2="231.4" stroke="#1a1a1a" stroke-width="0.95"/>
<rect x="403.28" y="229.25" width="2.2" height="1.20" fill="#13b866" stroke="#101010" stroke-width="0.6"/>
<line x1="408.11" y1="227.9" x2="408.11" y2="255.7" stroke="#1a1a1a" stroke-width="0.95"/>
<rect x="407.01" y="228.85" width="2.2" height="18.00" fill="#8e1018" stroke="#101010" stroke-width="0.6"/>
<line x1="411.83" y1="238.6" x2="411.83" y2="280.0" stroke="#1a1a1a" stroke-width="0.95"/>
<rect x="410.73" y="247.35" width="2.2" height="30.30" fill="#8e1018" stroke="#101010" stroke-width="0.6"/>
<line x1="415.55" y1="275.7" x2="415.55" y2="279.3" stroke="#1a1a1a" stroke-width="0.95"/>
<rect x="414.20" y="277.4" width="2.7" height="0.9" fill="#111"/>
<line x1="419.28" y1="258.6" x2="419.28" y2="280.0" stroke="#1a1a1a" stroke-width="0.95"/>
<rect x="418.18" y="265.95" width="2.2" height="11.70" fill="#13b866" stroke="#101010" stroke-width="0.6"/>
<line x1="423.00" y1="242.9" x2="423.00" y2="267.1" stroke="#1a1a1a" stroke-width="0.95"/>
<rect x="421.90" y="252.35" width="2.2" height="13.80" fill="#13b866" stroke="#101010" stroke-width="0.6"/>
<line x1="426.72" y1="221.4" x2="426.72" y2="256.4" stroke="#1a1a1a" stroke-width="0.95"/>
<rect x="425.62" y="227.35" width="2.2" height="23.10" fill="#13b866" stroke="#101010" stroke-width="0.6"/>
<line x1="430.44" y1="216.4" x2="430.44" y2="231.0" stroke="#1a1a1a" stroke-width="0.95"/>
<rect x="429.34" y="221.65" width="2.2" height="6.70" fill="#13b866" stroke="#101010" stroke-width="0.6"/>
<line x1="434.17" y1="204.3" x2="434.17" y2="224.3" stroke="#1a1a1a" stroke-width="0.95"/>
<rect x="433.07" y="206.65" width="2.2" height="14.50" fill="#13b866" stroke="#101010" stroke-width="0.6"/>
<line x1="437.89" y1="207.9" x2="437.89" y2="213.6" stroke="#1a1a1a" stroke-width="0.95"/>
<rect x="436.79" y="208.85" width="2.2" height="2.60" fill="#8e1018" stroke="#101010" stroke-width="0.6"/>
<line x1="441.61" y1="203.6" x2="441.61" y2="213.6" stroke="#1a1a1a" stroke-width="0.95"/>
<rect x="440.51" y="208.15" width="2.2" height="3.70" fill="#13b866" stroke="#101010" stroke-width="0.6"/>
<line x1="445.34" y1="200.0" x2="445.34" y2="217.1" stroke="#1a1a1a" stroke-width="0.95"/>
<rect x="444.24" y="208.15" width="2.2" height="7.30" fill="#8e1018" stroke="#101010" stroke-width="0.6"/>
<line x1="449.06" y1="201.4" x2="449.06" y2="224.3" stroke="#1a1a1a" stroke-width="0.95"/>
<rect x="447.96" y="206.65" width="2.2" height="8.80" fill="#13b866" stroke="#101010" stroke-width="0.6"/>
<line x1="452.78" y1="197.1" x2="452.78" y2="214.3" stroke="#1a1a1a" stroke-width="0.95"/>
<rect x="451.68" y="199.55" width="2.2" height="6.60" fill="#13b866" stroke="#101010" stroke-width="0.6"/>
<line x1="456.51" y1="183.6" x2="456.51" y2="200.0" stroke="#1a1a1a" stroke-width="0.95"/>
<rect x="455.41" y="185.25" width="2.2" height="13.80" fill="#13b866" stroke="#101010" stroke-width="0.6"/>
<line x1="460.23" y1="185.0" x2="460.23" y2="188.5" stroke="#1a1a1a" stroke-width="0.95"/>
<rect x="458.88" y="186.0" width="2.7" height="1.5" fill="#111"/>
<line x1="463.95" y1="181.4" x2="463.95" y2="192.1" stroke="#1a1a1a" stroke-width="0.95"/>
<rect x="462.85" y="186.65" width="2.2" height="4.50" fill="#8e1018" stroke="#101010" stroke-width="0.6"/>
<line x1="467.68" y1="175.7" x2="467.68" y2="197.1" stroke="#1a1a1a" stroke-width="0.95"/>
<rect x="466.57" y="179.55" width="2.2" height="11.60" fill="#13b866" stroke="#101010" stroke-width="0.6"/>
<line x1="471.40" y1="174.0" x2="471.40" y2="182.5" stroke="#1a1a1a" stroke-width="0.95"/>
<rect x="470.30" y="176.75" width="2.2" height="2.00" fill="#13b866" stroke="#101010" stroke-width="0.6"/>
<line x1="475.12" y1="170.5" x2="475.12" y2="187.5" stroke="#1a1a1a" stroke-width="0.95"/>
<rect x="473.77" y="174.5" width="2.7" height="1.5" fill="#111"/>
<line x1="478.84" y1="174.5" x2="478.84" y2="209.5" stroke="#1a1a1a" stroke-width="0.95"/>
<rect x="477.74" y="175.75" width="2.2" height="27.50" fill="#8e1018" stroke="#101010" stroke-width="0.6"/>
<line x1="482.57" y1="194.5" x2="482.57" y2="203.5" stroke="#1a1a1a" stroke-width="0.95"/>
<rect x="481.47" y="195.75" width="2.2" height="4.50" fill="#8e1018" stroke="#101010" stroke-width="0.6"/>
<line x1="486.29" y1="187.0" x2="486.29" y2="211.5" stroke="#1a1a1a" stroke-width="0.95"/>
<rect x="485.19" y="196.25" width="2.2" height="4.00" fill="#13b866" stroke="#101010" stroke-width="0.6"/>
<line x1="490.01" y1="193.0" x2="490.01" y2="219.5" stroke="#1a1a1a" stroke-width="0.95"/>
<rect x="488.91" y="194.25" width="2.2" height="19.50" fill="#8e1018" stroke="#101010" stroke-width="0.6"/>
<line x1="493.74" y1="203.5" x2="493.74" y2="230.5" stroke="#1a1a1a" stroke-width="0.95"/>
<rect x="492.64" y="212.75" width="2.2" height="1.50" fill="#13b866" stroke="#101010" stroke-width="0.6"/>
<line x1="497.46" y1="210.0" x2="497.46" y2="258.0" stroke="#1a1a1a" stroke-width="0.95"/>
<rect x="496.36" y="211.25" width="2.2" height="38.50" fill="#8e1018" stroke="#101010" stroke-width="0.6"/>
<line x1="501.18" y1="247.0" x2="501.18" y2="290.0" stroke="#1a1a1a" stroke-width="0.95"/>
<rect x="500.08" y="250.75" width="2.2" height="17.00" fill="#8e1018" stroke="#101010" stroke-width="0.6"/>
<line x1="504.90" y1="270.0" x2="504.90" y2="285.0" stroke="#1a1a1a" stroke-width="0.95"/>
<rect x="503.80" y="275.25" width="2.2" height="3.00" fill="#13b866" stroke="#101010" stroke-width="0.6"/>
<line x1="508.63" y1="269.0" x2="508.63" y2="322.5" stroke="#1a1a1a" stroke-width="0.95"/>
<rect x="507.53" y="275.25" width="2.2" height="25.50" fill="#8e1018" stroke="#101010" stroke-width="0.6"/>
<line x1="512.35" y1="296.0" x2="512.35" y2="336.5" stroke="#1a1a1a" stroke-width="0.95"/>
<rect x="511.25" y="302.25" width="2.2" height="13.50" fill="#8e1018" stroke="#101010" stroke-width="0.6"/>
<line x1="516.07" y1="296.0" x2="516.07" y2="328.5" stroke="#1a1a1a" stroke-width="0.95"/>
<rect x="514.97" y="311.25" width="2.2" height="4.50" fill="#13b866" stroke="#101010" stroke-width="0.6"/>
<line x1="519.80" y1="311.0" x2="519.80" y2="313.5" stroke="#1a1a1a" stroke-width="0.95"/>
<rect x="518.45" y="311.5" width="2.7" height="1.5" fill="#111"/>
<polyline points="2.3,141.5 6.0,140.0 9.7,140.0 13.5,139.5 17.2,130.0 20.9,128.6 24.6,124.3 28.4,117.9 32.1,117.9 35.8,120.7 39.5,122.5 43.3,123.8 47.0,125.3 50.7,122.8 54.4,117.9 58.1,113.6 61.9,110.7 65.6,108.6 69.3,113.0 73.0,128.0 76.8,143.0 80.5,152.0 84.2,156.7 87.9,152.9 91.7,147.9 95.4,141.0 99.1,137.0 102.8,131.4 106.5,128.6 110.3,127.1 114.0,135.7 117.7,143.6 121.4,152.1 125.2,156.4 128.9,153.6 132.6,145.0 136.3,140.7 140.1,133.6 143.8,125.0 147.5,120.7 151.2,123.6 154.9,129.3 158.7,132.9 162.4,139.3 166.1,142.9 169.8,145.0 173.6,146.4 177.3,145.0 181.0,143.6 184.7,140.7 188.5,130.0 192.2,121.4 195.9,116.4 199.6,113.6 203.3,110.0 207.1,107.1 210.8,102.9 214.5,101.4 218.2,114.3 222.0,128.6 225.7,138.6 229.4,144.3 233.1,144.7 236.8,143.6 240.6,148.0 244.3,156.4 248.0,164.3 251.7,167.1 255.5,169.3 259.2,171.4 262.9,176.4 266.6,180.7 270.4,185.7 274.1,190.0 277.8,188.6 281.5,186.0 285.2,186.4 289.0,191.4 292.7,192.1 296.4,192.1 300.1,197.9 303.9,209.3 307.6,223.0 311.3,233.0 315.0,240.7 318.8,241.4 322.5,237.1 326.2,237.9 329.9,241.4 333.6,244.3 337.4,241.4 341.1,235.7 344.8,233.6 348.5,232.9 352.3,234.3 356.0,242.9 359.7,254.3 363.4,259.3 367.2,256.4 370.9,255.0 374.6,253.6 378.3,253.0 382.0,252.6 385.8,250.7 389.5,247.1 393.2,246.4 396.9,245.0 400.7,241.4 404.4,237.1 408.1,240.7 411.8,254.3 415.6,260.7 419.3,261.4 423.0,257.9 426.7,248.6 430.4,235.7 434.2,225.7 437.9,222.9 441.6,218.6 445.3,217.1 449.1,216.4 452.8,208.6 456.5,200.7 460.2,195.0 464.0,191.1 467.7,189.3 471.4,186.5 475.1,183.0 478.8,190.0 482.6,193.5 486.3,194.5 490.0,199.0 493.7,205.0 497.5,220.0 501.2,237.0 504.9,249.0 508.6,265.0 512.4,279.0 516.1,291.0 519.8,298.0" fill="none" stroke="#111" stroke-width="0.75" stroke-linejoin="round" />
</g>
<rect x="2" y="172.10" width="656.5" height="1.8" fill="#dc143c"/>
<rect x="2" y="193.40" width="656.5" height="1.8" fill="#dc143c"/>
<rect x="2" y="219.60" width="656.5" height="1.8" fill="#dc143c"/>
<rect x="2" y="250.90" width="656.5" height="1.8" fill="#dc143c"/>
<rect x="2" y="279.30" width="656.5" height="1.8" fill="#dc143c"/>
<rect x="2" y="300.90" width="656.5" height="1.8" fill="#dc143c"/>
<rect x="2" y="332.60" width="656.5" height="1.8" fill="#dc143c"/>
<rect x="2" y="366.10" width="656.5" height="1.8" fill="#dc143c"/>
<g clip-path="url(#cd)">
<rect x="1.75" y="419.3" width="1.15" height="7.4" fill="#2a8a2a"/>
<rect x="5.47" y="419.3" width="1.15" height="4.6" fill="#2a8a2a"/>
<rect x="9.20" y="419.3" width="1.15" height="4.6" fill="#2a8a2a"/>
<rect x="12.92" y="419.3" width="1.15" height="4.6" fill="#2a8a2a"/>
<rect x="20.36" y="419.3" width="1.15" height="0.8" fill="#2a8a2a"/>
<rect x="24.09" y="418.3" width="1.15" height="1.0" fill="#2a8a2a"/>
<rect x="27.81" y="415.7" width="1.15" height="3.6" fill="#2a8a2a"/>
<rect x="31.53" y="417.4" width="1.15" height="1.9" fill="#2a8a2a"/>
<rect x="35.26" y="418.8" width="1.15" height="0.8" fill="#2a8a2a"/>
<rect x="38.98" y="419.3" width="1.15" height="0.8" fill="#2a8a2a"/>
<rect x="42.70" y="419.3" width="1.15" height="2.9" fill="#2a8a2a"/>
<rect x="46.43" y="419.3" width="1.15" height="3.9" fill="#2a8a2a"/>
<rect x="50.15" y="419.3" width="1.15" height="2.4" fill="#2a8a2a"/>
<rect x="53.87" y="419.3" width="1.15" height="1.4" fill="#2a8a2a"/>
<rect x="61.32" y="418.8" width="1.15" height="0.8" fill="#2a8a2a"/>
<rect x="65.04" y="418.4" width="1.15" height="0.9" fill="#2a8a2a"/>
<rect x="68.76" y="419.3" width="1.15" height="0.8" fill="#2a8a2a"/>
<rect x="72.49" y="419.3" width="1.15" height="8.6" fill="#2a8a2a"/>
<rect x="76.21" y="419.3" width="1.15" height="15.3" fill="#2a8a2a"/>
<rect x="79.93" y="419.3" width="1.15" height="18.6" fill="#2a8a2a"/>
<rect x="83.66" y="419.3" width="1.15" height="18.6" fill="#2a8a2a"/>
<rect x="87.38" y="419.3" width="1.15" height="15.3" fill="#2a8a2a"/>
<rect x="91.10" y="419.3" width="1.15" height="11.7" fill="#2a8a2a"/>
<rect x="94.83" y="419.3" width="1.15" height="7.2" fill="#2a8a2a"/>
<rect x="98.55" y="419.3" width="1.15" height="2.4" fill="#2a8a2a"/>
<rect x="102.27" y="419.0" width="1.15" height="0.8" fill="#2a8a2a"/>
<rect x="105.99" y="417.4" width="1.15" height="1.9" fill="#2a8a2a"/>
<rect x="109.72" y="417.0" width="1.15" height="2.3" fill="#2a8a2a"/>
<rect x="113.44" y="419.3" width="1.15" height="1.0" fill="#2a8a2a"/>
<rect x="117.16" y="419.3" width="1.15" height="4.6" fill="#2a8a2a"/>
<rect x="120.89" y="419.3" width="1.15" height="7.4" fill="#2a8a2a"/>
<rect x="124.61" y="419.3" width="1.15" height="8.9" fill="#2a8a2a"/>
<rect x="128.33" y="419.3" width="1.15" height="6.7" fill="#2a8a2a"/>
<rect x="132.06" y="419.3" width="1.15" height="3.4" fill="#2a8a2a"/>
<rect x="139.50" y="415.3" width="1.15" height="4.0" fill="#2a8a2a"/>
<rect x="143.22" y="411.7" width="1.15" height="7.6" fill="#2a8a2a"/>
<rect x="146.95" y="410.3" width="1.15" height="9.0" fill="#2a8a2a"/>
<rect x="150.67" y="412.4" width="1.15" height="6.9" fill="#2a8a2a"/>
<rect x="154.39" y="414.6" width="1.15" height="4.7" fill="#2a8a2a"/>
<rect x="158.12" y="417.4" width="1.15" height="1.9" fill="#2a8a2a"/>
<rect x="161.84" y="419.0" width="1.15" height="0.8" fill="#2a8a2a"/>
<rect x="165.56" y="419.3" width="1.15" height="1.7" fill="#2a8a2a"/>
<rect x="169.28" y="419.3" width="1.15" height="3.4" fill="#2a8a2a"/>
<rect x="173.01" y="419.3" width="1.15" height="4.3" fill="#2a8a2a"/>
<rect x="176.73" y="419.3" width="1.15" height="3.4" fill="#2a8a2a"/>
<rect x="180.45" y="419.3" width="1.15" height="2.9" fill="#2a8a2a"/>
<rect x="184.18" y="419.3" width="1.15" height="0.8" fill="#2a8a2a"/>
<rect x="187.90" y="416.0" width="1.15" height="3.3" fill="#2a8a2a"/>
<rect x="191.62" y="411.3" width="1.15" height="8.0" fill="#2a8a2a"/>
<rect x="195.35" y="411.0" width="1.15" height="8.3" fill="#2a8a2a"/>
<rect x="199.07" y="410.7" width="1.15" height="8.6" fill="#2a8a2a"/>
<rect x="202.79" y="410.3" width="1.15" height="9.0" fill="#2a8a2a"/>
<rect x="206.51" y="410.3" width="1.15" height="9.0" fill="#2a8a2a"/>
<rect x="210.24" y="410.3" width="1.15" height="9.0" fill="#2a8a2a"/>
<rect x="213.96" y="410.3" width="1.15" height="9.0" fill="#2a8a2a"/>
<rect x="217.68" y="417.9" width="1.15" height="1.4" fill="#2a8a2a"/>
<rect x="221.41" y="419.3" width="1.15" height="5.3" fill="#2a8a2a"/>
<rect x="225.13" y="419.3" width="1.15" height="9.6" fill="#2a8a2a"/>
<rect x="228.85" y="419.3" width="1.15" height="12.4" fill="#2a8a2a"/>
<rect x="232.58" y="419.3" width="1.15" height="11.7" fill="#2a8a2a"/>
<rect x="236.30" y="419.3" width="1.15" height="10.6" fill="#2a8a2a"/>
<rect x="240.02" y="419.3" width="1.15" height="10.6" fill="#2a8a2a"/>
<rect x="243.75" y="419.3" width="1.15" height="13.1" fill="#2a8a2a"/>
<rect x="247.47" y="419.3" width="1.15" height="14.9" fill="#2a8a2a"/>
<rect x="251.19" y="419.3" width="1.15" height="14.6" fill="#2a8a2a"/>
<rect x="254.91" y="419.3" width="1.15" height="13.1" fill="#2a8a2a"/>
<rect x="258.64" y="419.3" width="1.15" height="11.5" fill="#2a8a2a"/>
<rect x="262.36" y="419.3" width="1.15" height="11.0" fill="#2a8a2a"/>
<rect x="266.08" y="419.3" width="1.15" height="11.7" fill="#2a8a2a"/>
<rect x="269.81" y="419.3" width="1.15" height="11.8" fill="#2a8a2a"/>
<rect x="273.53" y="419.3" width="1.15" height="11.8" fill="#2a8a2a"/>
<rect x="277.25" y="419.3" width="1.15" height="7.5" fill="#2a8a2a"/>
<rect x="280.97" y="419.3" width="1.15" height="4.6" fill="#2a8a2a"/>
<rect x="284.70" y="419.3" width="1.15" height="2.9" fill="#2a8a2a"/>
<rect x="288.42" y="419.3" width="1.15" height="2.9" fill="#2a8a2a"/>
<rect x="292.14" y="419.3" width="1.15" height="2.0" fill="#2a8a2a"/>
<rect x="295.87" y="419.3" width="1.15" height="0.8" fill="#2a8a2a"/>
<rect x="299.59" y="419.3" width="1.15" height="3.4" fill="#2a8a2a"/>
<rect x="303.31" y="419.3" width="1.15" height="6.3" fill="#2a8a2a"/>
<rect x="307.04" y="419.3" width="1.15" height="11.0" fill="#2a8a2a"/>
<rect x="310.76" y="419.3" width="1.15" height="13.4" fill="#2a8a2a"/>
<rect x="314.48" y="419.3" width="1.15" height="14.6" fill="#2a8a2a"/>
<rect x="318.20" y="419.3" width="1.15" height="10.3" fill="#2a8a2a"/>
<rect x="321.93" y="419.3" width="1.15" height="6.3" fill="#2a8a2a"/>
<rect x="325.65" y="419.3" width="1.15" height="3.9" fill="#2a8a2a"/>
<rect x="329.37" y="419.3" width="1.15" height="3.4" fill="#2a8a2a"/>
<rect x="333.10" y="419.3" width="1.15" height="2.9" fill="#2a8a2a"/>
<rect x="336.82" y="418.8" width="1.15" height="0.8" fill="#2a8a2a"/>
<rect x="340.54" y="415.3" width="1.15" height="4.0" fill="#2a8a2a"/>
<rect x="344.27" y="413.4" width="1.15" height="5.9" fill="#2a8a2a"/>
<rect x="347.99" y="411.7" width="1.15" height="7.6" fill="#2a8a2a"/>
<rect x="351.71" y="412.4" width="1.15" height="6.9" fill="#2a8a2a"/>
<rect x="355.44" y="415.7" width="1.15" height="3.6" fill="#2a8a2a"/>
<rect x="362.88" y="419.3" width="1.15" height="0.8" fill="#2a8a2a"/>
<rect x="370.33" y="418.3" width="1.15" height="1.0" fill="#2a8a2a"/>
<rect x="374.05" y="416.3" width="1.15" height="3.0" fill="#2a8a2a"/>
<rect x="377.77" y="415.3" width="1.15" height="4.0" fill="#2a8a2a"/>
<rect x="381.50" y="414.6" width="1.15" height="4.7" fill="#2a8a2a"/>
<rect x="385.22" y="413.4" width="1.15" height="5.9" fill="#2a8a2a"/>
<rect x="388.94" y="410.6" width="1.15" height="8.7" fill="#2a8a2a"/>
<rect x="392.66" y="410.0" width="1.15" height="9.3" fill="#2a8a2a"/>
<rect x="396.39" y="411.0" width="1.15" height="8.3" fill="#2a8a2a"/>
<rect x="400.11" y="408.2" width="1.15" height="11.1" fill="#2a8a2a"/>
<rect x="403.83" y="407.4" width="1.15" height="11.9" fill="#2a8a2a"/>
<rect x="407.56" y="410.0" width="1.15" height="9.3" fill="#2a8a2a"/>
<rect x="411.28" y="416.7" width="1.15" height="2.6" fill="#2a8a2a"/>
<rect x="415.00" y="418.6" width="1.15" height="0.8" fill="#2a8a2a"/>
<rect x="418.73" y="418.8" width="1.15" height="0.8" fill="#2a8a2a"/>
<rect x="422.45" y="418.2" width="1.15" height="1.1" fill="#2a8a2a"/>
<rect x="426.17" y="413.4" width="1.15" height="5.9" fill="#2a8a2a"/>
<rect x="429.89" y="409.5" width="1.15" height="9.8" fill="#2a8a2a"/>
<rect x="433.62" y="405.3" width="1.15" height="14.0" fill="#2a8a2a"/>
<rect x="437.34" y="404.3" width="1.15" height="15.0" fill="#2a8a2a"/>
<rect x="441.06" y="403.7" width="1.15" height="15.6" fill="#2a8a2a"/>
<rect x="444.79" y="405.4" width="1.15" height="13.9" fill="#2a8a2a"/>
<rect x="448.51" y="405.4" width="1.15" height="13.9" fill="#2a8a2a"/>
<rect x="452.23" y="405.4" width="1.15" height="13.9" fill="#2a8a2a"/>
<rect x="455.96" y="403.7" width="1.15" height="15.6" fill="#2a8a2a"/>
<rect x="459.68" y="404.3" width="1.15" height="15.0" fill="#2a8a2a"/>
<rect x="463.40" y="406.2" width="1.15" height="13.1" fill="#2a8a2a"/>
<rect x="467.12" y="406.2" width="1.15" height="13.1" fill="#2a8a2a"/>
<rect x="470.85" y="406.9" width="1.15" height="12.4" fill="#2a8a2a"/>
<rect x="474.57" y="408.0" width="1.15" height="11.3" fill="#2a8a2a"/>
<rect x="478.29" y="414.3" width="1.15" height="5.0" fill="#2a8a2a"/>
<rect x="482.02" y="417.2" width="1.15" height="2.1" fill="#2a8a2a"/>
<rect x="489.46" y="419.3" width="1.15" height="3.2" fill="#2a8a2a"/>
<rect x="493.19" y="419.3" width="1.15" height="6.0" fill="#2a8a2a"/>
<rect x="496.91" y="419.3" width="1.15" height="13.5" fill="#2a8a2a"/>
<rect x="500.63" y="419.3" width="1.15" height="19.6" fill="#2a8a2a"/>
<rect x="504.35" y="419.3" width="1.15" height="24.6" fill="#2a8a2a"/>
<rect x="508.08" y="419.3" width="1.15" height="31.0" fill="#2a8a2a"/>
<rect x="511.80" y="419.3" width="1.15" height="34.6" fill="#2a8a2a"/>
<rect x="515.52" y="419.3" width="1.15" height="34.6" fill="#2a8a2a"/>
<rect x="519.25" y="419.3" width="1.15" height="32.4" fill="#2a8a2a"/>
<polyline points="2.3,392.9 6.0,393.9 9.7,395.0 13.5,396.1 17.2,396.1 20.9,395.7 24.6,395.0 28.4,393.9 32.1,393.6 35.8,393.6 39.5,393.9 43.3,394.7 47.0,395.3 50.7,395.9 54.4,396.1 58.1,396.1 61.9,395.7 65.6,395.3 69.3,396.1 73.0,398.6 76.8,403.6 80.5,408.6 84.2,412.1 87.9,415.7 91.7,418.6 95.4,419.8 99.1,421.0 102.8,420.0 106.5,418.6 110.3,417.6 114.0,418.1 117.7,420.0 121.4,422.4 125.2,424.3 128.9,426.1 132.6,426.7 136.3,426.7 140.1,425.3 143.8,423.3 147.5,420.7 151.2,419.0 154.9,417.6 158.7,417.1 162.4,417.6 166.1,418.6 169.8,419.6 173.6,420.7 177.3,421.4 181.0,421.9 184.7,421.9 188.5,421.0 192.2,418.8 195.9,416.7 199.6,414.3 203.3,411.4 207.1,408.6 210.8,405.7 214.5,403.6 218.2,403.3 222.0,404.3 225.7,407.1 229.4,410.0 233.1,412.9 236.8,415.7 240.6,418.6 244.3,421.9 248.0,425.7 251.7,429.3 255.5,433.2 259.2,436.0 262.9,439.0 266.6,442.0 270.4,445.4 274.1,448.0 277.8,450.0 281.5,451.2 285.2,452.1 289.0,452.9 292.7,453.6 296.4,453.6 300.1,454.3 303.9,456.4 307.6,459.3 311.3,462.9 315.0,465.7 318.8,468.1 322.5,470.0 326.2,471.0 329.9,472.1 333.6,472.9 337.4,472.5 341.1,470.7 344.8,468.5 348.5,467.0 352.3,465.3 356.0,464.0 359.7,464.0 363.4,464.6 367.2,464.6 370.9,464.0 374.6,462.9 378.3,461.7 382.0,460.3 385.8,458.6 389.5,456.4 393.2,454.0 396.9,451.4 400.7,448.6 404.4,445.7 408.1,443.6 411.8,442.1 415.6,441.7 419.3,442.1 423.0,442.1 426.7,440.0 430.4,436.9 434.2,433.5 437.9,428.7 441.6,424.4 445.3,420.9 449.1,417.3 452.8,413.7 456.5,410.1 460.2,405.9 464.0,402.3 467.7,398.7 471.4,395.1 475.1,392.6 478.8,391.6 482.6,391.3 486.3,391.6 490.0,392.3 493.7,394.0 497.5,397.3 501.2,402.3 504.9,408.7 508.6,416.2 512.4,424.5 516.1,432.0 519.8,437.6" fill="none" stroke="#ff2020" stroke-width="1.0" stroke-linejoin="round" stroke-dasharray="3.2 2.6"/>
<polyline points="2.3,399.3 6.0,397.9 9.7,399.3 13.5,401.0 17.2,395.3 20.9,396.7 24.6,393.9 28.4,390.4 32.1,391.4 35.8,392.9 39.5,393.9 43.3,396.4 47.0,399.3 50.7,398.6 54.4,397.6 58.1,396.1 61.9,395.0 65.6,393.6 69.3,397.1 73.0,406.4 76.8,418.6 80.5,426.4 84.2,429.6 87.9,430.4 91.7,429.6 95.4,427.1 99.1,423.3 102.8,419.3 106.5,416.7 110.3,415.7 114.0,419.3 117.7,425.7 121.4,430.7 125.2,433.3 128.9,433.3 132.6,430.4 136.3,426.4 140.1,420.7 143.8,414.3 147.5,411.0 151.2,410.7 154.9,411.4 158.7,414.3 162.4,417.6 166.1,420.4 169.8,423.3 173.6,424.7 177.3,425.0 181.0,424.3 184.7,422.4 188.5,417.1 192.2,411.4 195.9,407.1 199.6,403.6 203.3,400.4 207.1,398.6 210.8,395.7 214.5,393.9 218.2,402.1 222.0,412.1 225.7,419.3 229.4,423.6 233.1,425.0 236.8,426.4 240.6,429.3 244.3,435.7 248.0,441.9 251.7,444.3 255.5,446.0 259.2,448.0 262.9,449.3 266.6,454.0 270.4,457.1 274.1,460.4 277.8,457.6 281.5,455.7 285.2,455.3 289.0,456.1 292.7,456.1 296.4,453.3 300.1,457.9 303.9,463.6 307.6,470.0 311.3,475.7 315.0,479.6 318.8,478.6 322.5,476.4 326.2,474.7 329.9,475.3 333.6,475.3 337.4,471.0 341.1,466.4 344.8,462.1 348.5,458.8 352.3,457.3 356.0,459.3 359.7,463.6 363.4,466.4 367.2,464.3 370.9,461.4 374.6,458.9 378.3,456.9 382.0,455.0 385.8,452.6 389.5,449.3 393.2,446.0 396.9,442.9 400.7,438.3 404.4,433.6 408.1,433.1 411.8,437.4 415.6,442.1 419.3,442.9 423.0,441.4 426.7,433.7 430.4,426.0 434.2,419.3 437.9,413.0 441.6,408.7 445.3,406.6 449.1,403.0 452.8,399.4 456.5,394.4 460.2,390.9 464.0,388.7 467.7,385.9 471.4,383.0 475.1,381.1 478.8,385.1 482.6,388.3 486.3,390.1 490.0,395.1 493.7,400.9 497.5,410.5 501.2,420.8 504.9,432.0 508.6,445.0 512.4,456.4 516.1,466.4 519.8,473.6" fill="none" stroke="#2a2af0" stroke-width="1.1" stroke-linejoin="round" />
</g>
<rect x="1.2" y="37.7" width="658.4" height="1.2" fill="#111"/>
<rect x="1.25" y="37.85" width="1.05" height="448" fill="#151515"/>
<rect x="658.35" y="37.85" width="1.25" height="448" fill="#000"/>
<rect x="1.25" y="484.7" width="658" height="1.2" fill="#151515"/>
<rect x="1" y="373.2" width="658" height="1.1" fill="#3a3a3a"/>
<rect x="1" y="374.3" width="658" height="0.9" fill="#b5b5b5"/>
<polygon points="520.8,38.9 529.8,38.9 525.3,43.4" fill="#7d8fa6"/>
<rect x="659" y="45.6" width="2.1" height="1" fill="#1a1a1a"/>
<text class="s" x="663.8" y="49.2" textLength="30.5" lengthAdjust="spacingAndGlyphs">1.00980</text>
<rect x="659" y="72.7" width="2.1" height="1" fill="#1a1a1a"/>
<text class="s" x="663.8" y="76.2" textLength="30.5" lengthAdjust="spacingAndGlyphs">1.00440</text>
<rect x="659" y="99.7" width="2.1" height="1" fill="#1a1a1a"/>
<text class="s" x="663.8" y="103.3" textLength="30.5" lengthAdjust="spacingAndGlyphs">0.99885</text>
<rect x="659" y="126.8" width="2.1" height="1" fill="#1a1a1a"/>
<text class="s" x="663.8" y="130.3" textLength="30.5" lengthAdjust="spacingAndGlyphs">0.99345</text>
<rect x="659" y="153.8" width="2.1" height="1" fill="#1a1a1a"/>
<text class="s" x="663.8" y="157.4" textLength="30.5" lengthAdjust="spacingAndGlyphs">0.98805</text>
<rect x="659" y="180.8" width="2.1" height="1" fill="#1a1a1a"/>
<text class="s" x="663.8" y="184.4" textLength="30.5" lengthAdjust="spacingAndGlyphs">0.98265</text>
<rect x="659" y="207.9" width="2.1" height="1" fill="#1a1a1a"/>
<text class="s" x="663.8" y="211.5" textLength="30.5" lengthAdjust="spacingAndGlyphs">0.97710</text>
<rect x="659" y="234.9" width="2.1" height="1" fill="#1a1a1a"/>
<text class="s" x="663.8" y="238.5" textLength="30.5" lengthAdjust="spacingAndGlyphs">0.97170</text>
<rect x="659" y="262.0" width="2.1" height="1" fill="#1a1a1a"/>
<text class="s" x="663.8" y="265.6" textLength="30.5" lengthAdjust="spacingAndGlyphs">0.96630</text>
<rect x="659" y="289.1" width="2.1" height="1" fill="#1a1a1a"/>
<text class="s" x="663.8" y="292.7" textLength="30.5" lengthAdjust="spacingAndGlyphs">0.96090</text>
<rect x="659" y="316.1" width="2.1" height="1" fill="#1a1a1a"/>
<text class="s" x="663.8" y="319.7" textLength="30.5" lengthAdjust="spacingAndGlyphs">0.95555</text>
<rect x="659" y="343.2" width="2.1" height="1" fill="#1a1a1a"/>
<text class="s" x="663.8" y="346.8" textLength="30.5" lengthAdjust="spacingAndGlyphs">0.94995</text>
<rect x="659" y="370.2" width="2.1" height="1" fill="#1a1a1a"/>
<text class="s" x="663.8" y="373.8" textLength="30.5" lengthAdjust="spacingAndGlyphs">0.94455</text>
<text class="s" x="662" y="383.9" textLength="35" lengthAdjust="spacingAndGlyphs">0.003617</text>
<rect x="659" y="418.6" width="2.1" height="1" fill="#1a1a1a"/>
<text class="s" x="662" y="421.9" textLength="16.4" lengthAdjust="spacingAndGlyphs">0.00</text>
<text class="s" x="662" y="482.9" textLength="38.6" lengthAdjust="spacingAndGlyphs">-0.005502</text>
<rect x="660" y="168.50" width="38" height="8.6" fill="#dc143c"/>
<text class="w" x="663.8" y="175.6" textLength="30.4" lengthAdjust="spacingAndGlyphs">0.98424</text>
<rect x="660" y="189.80" width="38" height="8.6" fill="#dc143c"/>
<text class="w" x="663.8" y="196.9" textLength="30.4" lengthAdjust="spacingAndGlyphs">0.97994</text>
<rect x="660" y="216.00" width="38" height="8.6" fill="#dc143c"/>
<text class="w" x="663.8" y="223.1" textLength="30.4" lengthAdjust="spacingAndGlyphs">0.97462</text>
<rect x="660" y="247.30" width="38" height="8.6" fill="#dc143c"/>
<text class="w" x="663.8" y="254.4" textLength="30.4" lengthAdjust="spacingAndGlyphs">0.96841</text>
<rect x="660" y="275.70" width="38" height="8.6" fill="#dc143c"/>
<text class="w" x="663.8" y="282.8" textLength="30.4" lengthAdjust="spacingAndGlyphs">0.96260</text>
<rect x="660" y="297.30" width="38" height="8.6" fill="#dc143c"/>
<text class="w" x="663.8" y="304.4" textLength="30.4" lengthAdjust="spacingAndGlyphs">0.95832</text>
<rect x="660" y="329.00" width="38" height="8.6" fill="#dc143c"/>
<text class="w" x="663.8" y="336.1" textLength="30.4" lengthAdjust="spacingAndGlyphs">0.95201</text>
<rect x="660" y="362.50" width="38" height="8.6" fill="#dc143c"/>
<text class="w" x="663.8" y="369.6" textLength="30.4" lengthAdjust="spacingAndGlyphs">0.94517</text>
<rect x="660" y="308.5" width="38.4" height="8.5" fill="#000"/>
<text class="w" x="664" y="315.5" textLength="30.4" lengthAdjust="spacingAndGlyphs">0.95623</text>
<polygon points="4.5,43.3 11.1,43.3 7.8,46.9" fill="#000"/>
<text class="s" x="16.4" y="48" textLength="59.6" lengthAdjust="spacingAndGlyphs">USDCHF,Daily</text>
<text class="s" y="48"><tspan x="82.4" textLength="29.6" lengthAdjust="spacingAndGlyphs">0.95651</tspan> <tspan x="116" textLength="29.6" lengthAdjust="spacingAndGlyphs">0.95651</tspan> <tspan x="149.6" textLength="29.6" lengthAdjust="spacingAndGlyphs">0.95605</tspan> <tspan x="183.2" textLength="29.8" lengthAdjust="spacingAndGlyphs">0.95623</tspan></text>
<text class="s" y="385.4"><tspan x="6" textLength="60.0" lengthAdjust="spacingAndGlyphs">MACD(12,26,9)</tspan> <tspan x="70" textLength="37.8" lengthAdjust="spacingAndGlyphs">-0.004614</tspan> <tspan x="111.6" textLength="36.4" lengthAdjust="spacingAndGlyphs">-0.001857</tspan> <tspan x="152.4" textLength="37.2" lengthAdjust="spacingAndGlyphs">-0.002756</tspan></text>
<rect x="1.8" y="485" width="1" height="3.6" fill="#1a1a1a"/>
<text class="s" x="1.6" y="495.8" textLength="47.4" lengthAdjust="spacingAndGlyphs">25 Sep 2019</text>
<rect x="61.4" y="485" width="1" height="3.6" fill="#1a1a1a"/>
<text class="s" x="61" y="495.8" textLength="47" lengthAdjust="spacingAndGlyphs">14 Oct 2019</text>
<rect x="120.9" y="485" width="1" height="3.6" fill="#1a1a1a"/>
<text class="s" x="121" y="495.8" textLength="44.6" lengthAdjust="spacingAndGlyphs">1 Nov 2019</text>
<rect x="180.5" y="485" width="1" height="3.6" fill="#1a1a1a"/>
<text class="s" x="180" y="495.8" textLength="49.6" lengthAdjust="spacingAndGlyphs">20 Nov 2019</text>
<rect x="240.1" y="485" width="1" height="3.6" fill="#1a1a1a"/>
<text class="s" x="240" y="495.8" textLength="42.4" lengthAdjust="spacingAndGlyphs">9 Dec 2019</text>
<rect x="299.6" y="485" width="1" height="3.6" fill="#1a1a1a"/>
<text class="s" x="299.6" y="495.8" textLength="46.8" lengthAdjust="spacingAndGlyphs">27 Dec 2019</text>
<rect x="359.2" y="485" width="1" height="3.6" fill="#1a1a1a"/>
<text class="s" x="359" y="495.8" textLength="45.4" lengthAdjust="spacingAndGlyphs">15 Jan 2020</text>
<rect x="418.8" y="485" width="1" height="3.6" fill="#1a1a1a"/>
<text class="s" x="418.4" y="495.8" textLength="42.6" lengthAdjust="spacingAndGlyphs">3 Feb 2020</text>
<rect x="478.3" y="485" width="1" height="3.6" fill="#1a1a1a"/>
<text class="s" x="478" y="495.8" textLength="47.6" lengthAdjust="spacingAndGlyphs">21 Feb 2020</text>
</svg></body></html>
